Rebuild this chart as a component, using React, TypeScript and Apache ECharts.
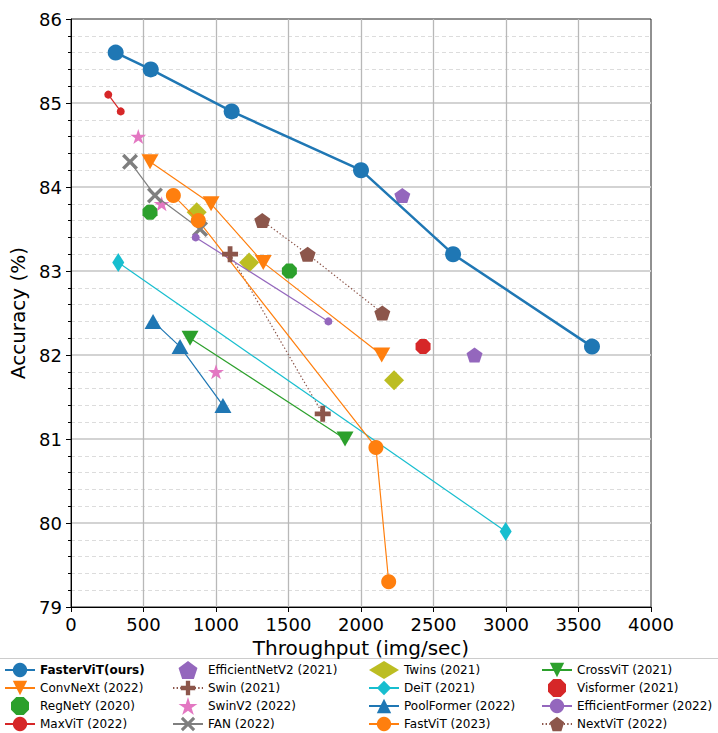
import React, { useEffect, useRef } from "react";
import * as echarts from "echarts";

// ---- data (throughput img/sec, top-1 accuracy %) ----
const fasterViT = [[308, 85.6], [550, 85.4], [1108, 84.9], [2000, 84.2], [2635, 83.2], [3593, 82.1]];
const convNeXt = [[545, 84.3], [966, 83.8], [1326, 83.1], [2143, 82.0]];
const regNetY = [[545, 83.7], [1506, 83.0]];
const maxViT = [[257, 85.1], [343, 84.9]];
const efficientNetV2 = [[2285, 83.9], [2783, 82.0]];
const swin = [[1097, 83.2], [1736, 81.3]];
const swinV2 = [[464, 84.6], [625, 83.8], [1000, 81.8]];
const fan = [[407, 84.3], [579, 83.9], [890, 83.5]];
const twins = [[867, 83.7], [1228, 83.1], [2228, 81.7]];
const deiT = [[326, 83.1], [2998, 79.9]];
const poolFormer = [[566, 82.4], [752, 82.1], [1048, 81.4]];
const fastViT = [[706, 83.9], [878, 83.6], [2103, 80.9], [2191, 79.3]];
const crossViT = [[821, 82.2], [1890, 81.0]];
const visformer = [[2428, 82.1]];
const efficientFormer = [[860, 83.4], [1775, 82.4]];
const nextViT = [[1319, 83.6], [1632, 83.2], [2147, 82.5]];

const xTicks = { min: 0, max: 4000, interval: 500 };
const yTicks = { min: 79, max: 86, interval: 1 };

const PENTAGON = "path://M50,0 L97.55,34.55 L79.39,90.45 L20.61,90.45 L2.45,34.55 Z";
const OCTAGON = "path://M96.2,30.9 L69.1,3.8 L30.9,3.8 L3.8,30.9 L3.8,69.1 L30.9,96.2 L69.1,96.2 L96.2,69.1 Z";
const STAR = "path://M50,0 L61.23,34.55 L97.55,34.55 L68.17,55.9 L79.39,90.45 L50,69.1 L20.61,90.45 L31.83,55.9 L2.45,34.55 L38.77,34.55 Z";
const PLUS = "path://M35,0 H65 V35 H100 V65 H65 V100 H35 V65 H0 V35 H35 Z";
const XSHAPE = "path://M15,0 L50,35 L85,0 L100,15 L65,50 L100,85 L85,100 L50,65 L15,100 L0,85 L35,50 L0,15 Z";

const FONT = "DejaVu Sans";

type Spec = {
  name: string;
  data: number[][];
  color: string;
  symbol: string;
  size: number | number[];
  rotate?: number;
  line: null | "solid" | "dotted";
  width?: number;
};

const specs: Spec[] = [
  { name: "FasterViT(ours)", data: fasterViT, color: "#1f77b4", symbol: "circle", size: 16, line: "solid", width: 2.5 },
  { name: "ConvNeXt (2022)", data: convNeXt, color: "#ff7f0e", symbol: "triangle", rotate: 180, size: [17, 15], line: "solid" },
  { name: "RegNetY (2020)", data: regNetY, color: "#2ca02c", symbol: OCTAGON, size: 15, line: null },
  { name: "MaxViT (2022)", data: maxViT, color: "#d62728", symbol: "circle", size: 8, line: "solid" },
  { name: "EfficientNetV2 (2021)", data: efficientNetV2, color: "#9467bd", symbol: PENTAGON, size: [16, 15], line: null },
  { name: "Swin (2021)", data: swin, color: "#8c564b", symbol: PLUS, size: 16, line: "dotted" },
  { name: "SwinV2 (2022)", data: swinV2, color: "#e377c2", symbol: STAR, size: [16, 15], line: null },
  { name: "FAN (2022)", data: fan, color: "#7f7f7f", symbol: XSHAPE, size: 16, line: "solid" },
  { name: "Twins (2021)", data: twins, color: "#bcbd22", symbol: "diamond", size: 20, line: null },
  { name: "DeiT (2021)", data: deiT, color: "#17becf", symbol: "diamond", size: [12, 19], line: "solid" },
  { name: "PoolFormer (2022)", data: poolFormer, color: "#1f77b4", symbol: "triangle", size: [17, 15], line: "solid" },
  { name: "FastViT (2023)", data: fastViT, color: "#ff7f0e", symbol: "circle", size: 15, line: "solid" },
  { name: "CrossViT (2021)", data: crossViT, color: "#2ca02c", symbol: "triangle", rotate: 180, size: [17, 15], line: "solid" },
  { name: "Visformer (2021)", data: visformer, color: "#d62728", symbol: OCTAGON, size: 15, line: null },
  { name: "EfficientFormer (2022)", data: efficientFormer, color: "#9467bd", symbol: "circle", size: 8, line: "solid" },
  { name: "NextViT (2022)", data: nextViT, color: "#8c564b", symbol: PENTAGON, size: [16, 15], line: "dotted" },
];

const legendLefts = [4, 172, 368, 541];

export default function App() {
  const ref = useRef<HTMLDivElement>(null);
  useEffect(() => {
    if (!ref.current) return;
    const chart = echarts.init(ref.current, undefined, { renderer: "svg" });

    const series = specs.map((s) => {
      const common: any = {
        name: s.name,
        data: s.data,
        symbol: s.symbol,
        symbolSize: s.size,
        symbolRotate: s.rotate || 0,
        itemStyle: { color: s.color, opacity: 1 },
        emphasis: { disabled: true },
        silent: true,
      };
      if (s.line) {
        return {
          ...common,
          type: "line",
          showAllSymbol: true,
          lineStyle: {
            color: s.color,
            width: s.width || 1.2,
            type: s.line === "dotted" ? [1.4, 2.2] : "solid",
          },
        };
      }
      return { ...common, type: "scatter" };
    });

    const legends = legendLefts.map((left, i) => ({
      orient: "vertical",
      left,
      top: 661,
      padding: 0,
      itemWidth: 30,
      itemHeight: 18,
      itemGap: 0,
      selectedMode: false,
      data: specs.slice(i * 4, i * 4 + 4).map((s) => s.name),
      formatter: (name: string) => (name === "FasterViT(ours)" ? `{b|${name}}` : name),
      textStyle: {
        fontFamily: FONT,
        fontSize: 12,
        lineHeight: 18,
        color: "#000",
        rich: { b: { fontFamily: FONT, fontSize: 12, lineHeight: 18, fontWeight: "bold", color: "#000" } },
      },
    }));

    chart.setOption({
      animation: false,
      backgroundColor: "#fff",
      graphic: [
        {
          type: "rect",
          z: -10,
          silent: true,
          shape: { x: -5, y: 658.5, width: 728, height: 90 },
          style: { fill: "#fff", stroke: "#cccccc", lineWidth: 1 },
        },
      ],
      grid: {
        left: 71,
        top: 19,
        width: 580,
        height: 588,
        show: true,
        borderColor: "#222",
        borderWidth: 1,
        backgroundColor: "transparent",
        containLabel: false,
      },
      xAxis: {
        type: "value",
        ...xTicks,
        name: "Throughput (img/sec)",
        nameLocation: "middle",
        nameGap: 30,
        nameTextStyle: { fontFamily: FONT, fontSize: 20, color: "#000" },
        axisLine: { show: true, lineStyle: { color: "#000", width: 1 } },
        axisTick: { show: true, length: 5, lineStyle: { color: "#000" } },
        axisLabel: { fontFamily: FONT, fontSize: 18, color: "#000", margin: 8, formatter: (v: number) => String(v) },
        splitLine: { show: true, showMinLine: false, showMaxLine: false, lineStyle: { color: "#b8b8b8", width: 1.3 } },
      },
      yAxis: {
        type: "value",
        ...yTicks,
        name: "Accuracy (%)",
        nameLocation: "middle",
        nameGap: 37,
        nameRotate: 90,
        nameTextStyle: { fontFamily: FONT, fontSize: 20, color: "#000" },
        axisLine: { show: true, lineStyle: { color: "#000", width: 1 } },
        axisTick: { show: true, length: 5, lineStyle: { color: "#000" } },
        minorTick: { show: true, splitNumber: 5, length: 3, lineStyle: { color: "#000" } },
        axisLabel: { fontFamily: FONT, fontSize: 18, color: "#000", margin: 9, formatter: (v: number) => String(v) },
        splitLine: { show: true, showMinLine: false, showMaxLine: false, lineStyle: { color: "#d3d3d3", width: 2 } },
        minorSplitLine: { show: true, lineStyle: { color: "#dcdcdc", width: 1, type: [4, 3] } },
      },
      legend: legends,
      series,
    });
    return () => chart.dispose();
  }, []);
  return (
    <div
      ref={ref}
      style={{ position: "absolute", left: 0, top: 0, width: 718, height: 733, background: "#fff" }}
    />
  );
}
